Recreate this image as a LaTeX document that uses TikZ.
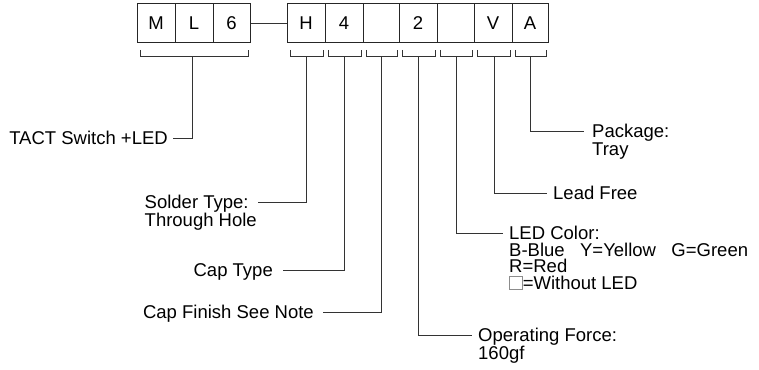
\documentclass[tikz,border=0pt]{standalone}
\usepackage{fontspec}
\setmainfont{Liberation Sans}
\newcommand{\lblfont}{\fontsize{18.5}{16.5}\selectfont}
\newcommand{\linesof}[1]{\vtop{\lblfont\halign{##\hfil\cr#1\crcr}}}
\newcommand{\emptybox}{{\setlength{\fboxsep}{0pt}\setlength{\fboxrule}{0.7pt}\fcolorbox{black!45}{white}{\rule{0pt}{0.68em}\hspace{0.66em}}}}
\begin{document}
\begin{tikzpicture}[x=1pt,y=-1pt,
  ln/.style={line width=1pt, draw=black!80},
  cell/.style={draw=black!85, line width=1pt, inner sep=0pt, font=\lblfont, minimum height=39pt},
  lbl/.style={inner sep=0pt, font=\lblfont}]
\useasboundingbox (0,0) rectangle (759,369);

% code cells
\foreach \n/\a/\b/\t in {cM/137/175/M, cL/175/213/L, c6/213/250/6,
  cH/287/325/H, c4/325/363/4, cX/363/399/{}, c2/399/437/2, cY/437/474/{}, cV/474/512/V, cA/512/548/A}{
  \node[cell, minimum width={(\b-\a)*1pt}] (\n) at ({(\a+\b)/2},23.5) {\t};
}
\draw[ln] (c6.east) -- (cH.west);

% brackets
\foreach \a/\b in {137/250, 287/325, 325/363, 363/399, 399/437, 437/474, 474/512, 512/548}{
  \draw[ln] (\a+3,50) -- (\a+3,56) -- (\b-2,56) -- (\b-2,50);
}
\coordinate (sML) at (192,56);
\coordinate (sH) at (306,56);
\coordinate (s4) at (344,56);
\coordinate (sX) at (381,56);
\coordinate (s2) at (418,56);
\coordinate (sY) at (456,56);
\coordinate (sV) at (494,56);
\coordinate (sA) at (530,56);

% line ends
\coordinate (eT) at (173,138);
\coordinate (eH) at (258,202);
\coordinate (e4) at (283,270);
\coordinate (eX) at (323,312);
\coordinate (e2) at (472,335);
\coordinate (eY) at (503,233);
\coordinate (eV) at (547,193);
\coordinate (eA) at (584,131);

% labels
\node[lbl, anchor=base east] (tact) at ([xshift=-5pt,yshift=-6.6pt]eT) {TACT Switch +LED};
\node[lbl, anchor=base east] (solder) at ([xshift=-1pt,yshift=-6.6pt]eH) {\linesof{Solder Type:\cr Through Hole}};
\node[lbl, anchor=base east] (captype) at ([xshift=-10pt,yshift=-6.6pt]e4) {Cap Type};
\node[lbl, anchor=base east] (capfin) at ([xshift=-9pt,yshift=-6.6pt]eX) {Cap Finish See Note};
\node[lbl, anchor=base west] (force) at ([xshift=6pt,yshift=-6.6pt]e2) {\linesof{Operating Force:\cr 160gf}};
\node[lbl, anchor=base west] (ledc) at ([xshift=6pt,yshift=-6.6pt]eY) {\linesof{LED Color:\cr B-Blue\ \ \ Y=Yellow\ \ \ G=Green\cr R=Red\cr \emptybox=Without LED}};
\node[lbl, anchor=base west] (lead) at ([xshift=6pt,yshift=-6.6pt]eV) {Lead Free};
\node[lbl, anchor=base west] (pkg) at ([xshift=8pt,yshift=-6.6pt]eA) {\linesof{Package:\cr Tray}};

% connectors
\draw[ln] (sML) |- (eT);
\draw[ln] (sH) |- (eH);
\draw[ln] (s4) |- (e4);
\draw[ln] (sX) |- (eX);
\draw[ln] (s2) |- (e2);
\draw[ln] (sY) |- (eY);
\draw[ln] (sV) |- (eV);
\draw[ln] (sA) |- (eA);
\end{tikzpicture}
\end{document}
